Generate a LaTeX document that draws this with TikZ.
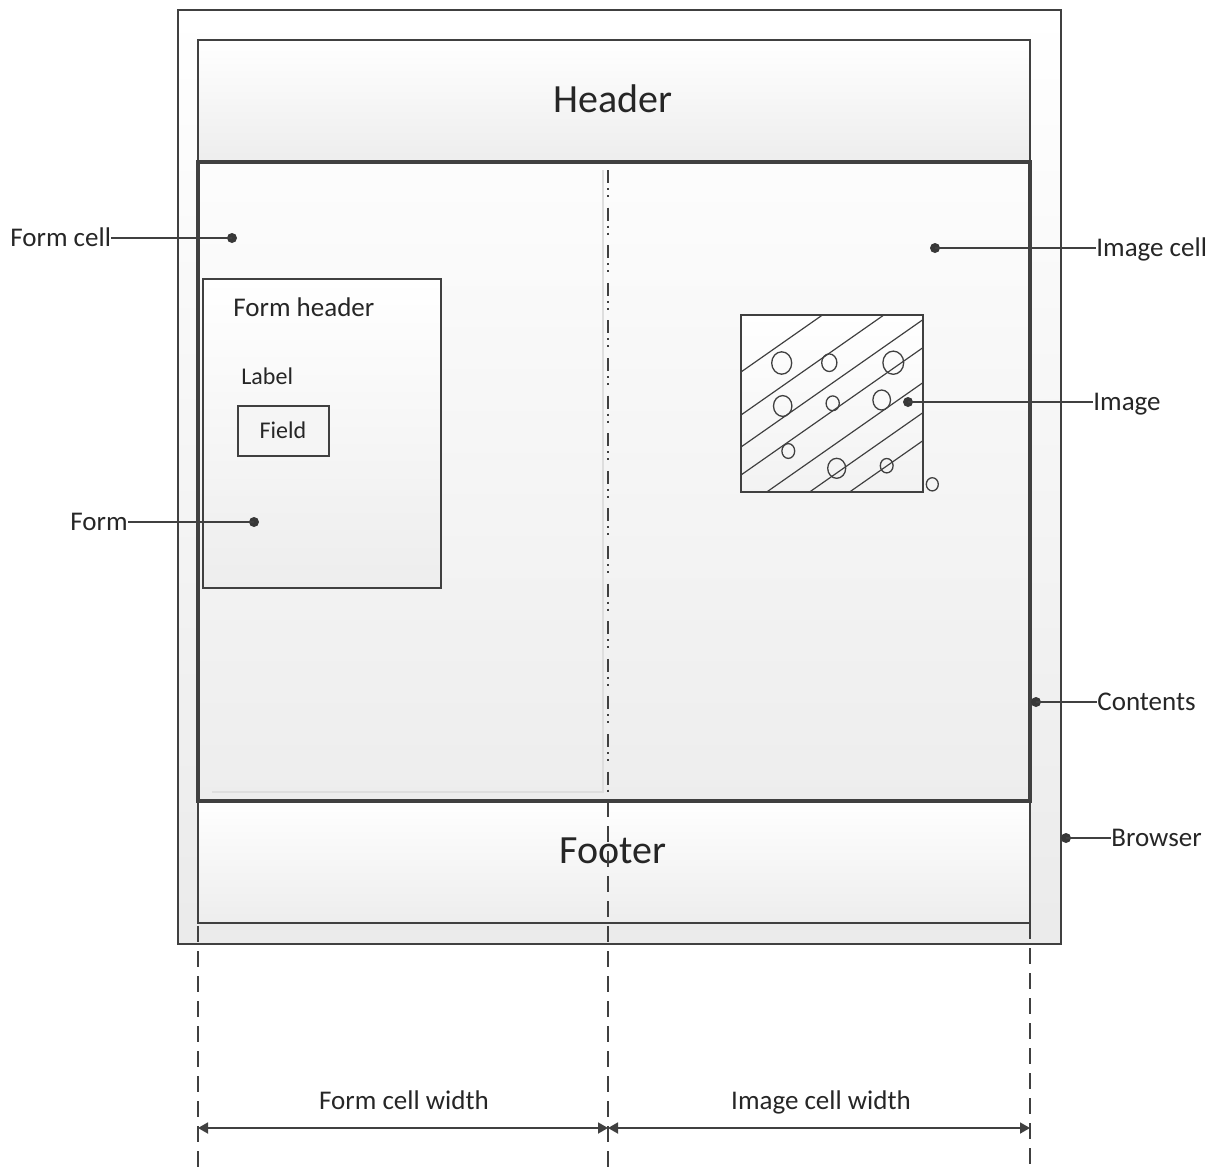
\documentclass[tikz,border=0pt]{standalone}
\usepackage{fontspec}
\setmainfont{Carlito}
\usetikzlibrary{arrows.meta}

\definecolor{linegray}{HTML}{404040}
\definecolor{textgray}{HTML}{262626}
\definecolor{dotgray}{HTML}{383838}

\tikzset{
  box/.style={draw=linegray,line width=0.75pt,top color=white,bottom color=black!7},
  thickbox/.style={draw=linegray,line width=1.6pt},
  callout/.style={draw=linegray,line width=0.6pt},
  dotmark/.style={circle,fill=dotgray,inner sep=0pt,minimum size=5pt},
  lbl/.style={text=textgray,inner sep=0pt,text height=8.7pt,text depth=0pt,font=\fontsize{13.5}{16}\selectfont},
  smalllbl/.style={lbl,text height=7.7pt,font=\fontsize{12}{14}\selectfont},
  title/.style={lbl,text height=12.9pt,font=\fontsize{20}{24}\selectfont},
  guide/.style={draw=linegray,line width=0.75pt,dash pattern=on 8pt off 4.5pt},
  dimarrow/.style={draw=linegray,line width=0.9pt,{Triangle[length=5pt,width=5.5pt]}-{Triangle[length=5pt,width=5.5pt]}}
}

\begin{document}
\begin{tikzpicture}[x=0.5pt,y=-0.5pt]
\useasboundingbox (0,0) rectangle (1223,1168);

% browser, header, footer, contents
\draw[box][bottom color=black!8](178,10) rectangle (1061,944);
\draw[box](198,40) rectangle (1030,162);
\draw[box](198,801) rectangle (1030,923);
\draw[thickbox][top color=black!1,bottom color=black!7](198,162) rectangle (1030,801);
\node (hdr) at (613,100) [title]{Header};
\node (ftr) at (613,851) [title]{Footer};

% cells
\draw[black!13][line width=1pt](603,170) -- (603,792) -- (212,792);
\draw[linegray][line width=0.75pt][dash pattern=on 6.5pt off 2.5pt on 1pt off 2.5pt on 1pt off 5.3pt](608,170) -- (608,796);

% form
\draw[box][line width=0.7pt](203,279) rectangle (441,588);
\node (fhdr) at (233,308) [lbl][anchor=west]{Form header};
\node (flbl) at (241,377) [smalllbl][anchor=west]{Label};
\draw[linegray][line width=0.7pt][fill=black!4](238,406) rectangle (329,456);
\node (fld) at (283,431) [smalllbl]{Field};

% image
\draw[linegray][line width=1pt][top color=white,bottom color=black!5](741,315) rectangle (923,492);
\begin{scope}
\clip (741,315) rectangle (923,492);
\foreach \yy in {372,415,447,475,510,540,568}
  \draw[linegray][line width=0.6pt](741,\yy) -- ++(200,-140);
\end{scope}
\draw[linegray][line width=1pt](741,315) rectangle (923,492);
\foreach \cx/\cy/\rx/\ry in {781.7/363/5/5.6, 829.3/362.7/3.8/4.4, 893.3/362.7/5.2/5.8,
  782.7/406/4.6/5.2, 832.7/403.3/3.3/3.7, 881.7/400/4.4/5, 788.3/451/3.2/3.7,
  836.7/468.3/4.5/5, 886.7/465.7/3.2/3.6, 932.3/484.3/3/3.3}
  \draw[linegray][line width=0.65pt](\cx,\cy) ellipse [x radius=\rx pt,y radius=\ry pt];

% guides and widths
\draw[guide](198,801) -- (198,1168);
\draw[guide](608,801) -- (608,1168);
\draw[guide](1030,923) -- (1030,1168);
\coordinate (wl) at (198,1128);
\coordinate (wm) at (608,1128);
\coordinate (wr) at (1030,1128);
\draw[dimarrow](wl) -- (wm);
\draw[dimarrow](wm) -- (wr);
\node (fcw) at (404,1101) [lbl]{Form cell width};
\node (icw) at (821,1101) [lbl]{Image cell width};

% callouts
\node (fcdot) at (232,238) [dotmark]{};
\node (fcl) at (10,238) [lbl][anchor=west]{Form cell};
\draw[callout](fcl.east) -- (fcdot.center);
\node (fdot) at (254,522) [dotmark]{};
\node (fl) at (70,522) [lbl][anchor=west]{Form};
\draw[callout](fl.east) -- (fdot.center);
\node (icdot) at (935,248) [dotmark]{};
\node (icl) at (1096,248) [lbl][anchor=west]{Image cell};
\draw[callout](icdot.center) -- (icl.west);
\node (idot) at (908,402) [dotmark]{};
\node (il) at (1093,402) [lbl][anchor=west]{Image};
\draw[callout](idot.center) -- (il.west);
\node (cdot) at (1036,702) [dotmark]{};
\node (cl) at (1097,702) [lbl][anchor=west]{Contents};
\draw[callout](cdot.center) -- (cl.west);
\node (bdot) at (1066,838) [dotmark]{};
\node (bl) at (1111,838) [lbl][anchor=west]{Browser};
\draw[callout](bdot.center) -- (bl.west);
\end{tikzpicture}
\end{document}
